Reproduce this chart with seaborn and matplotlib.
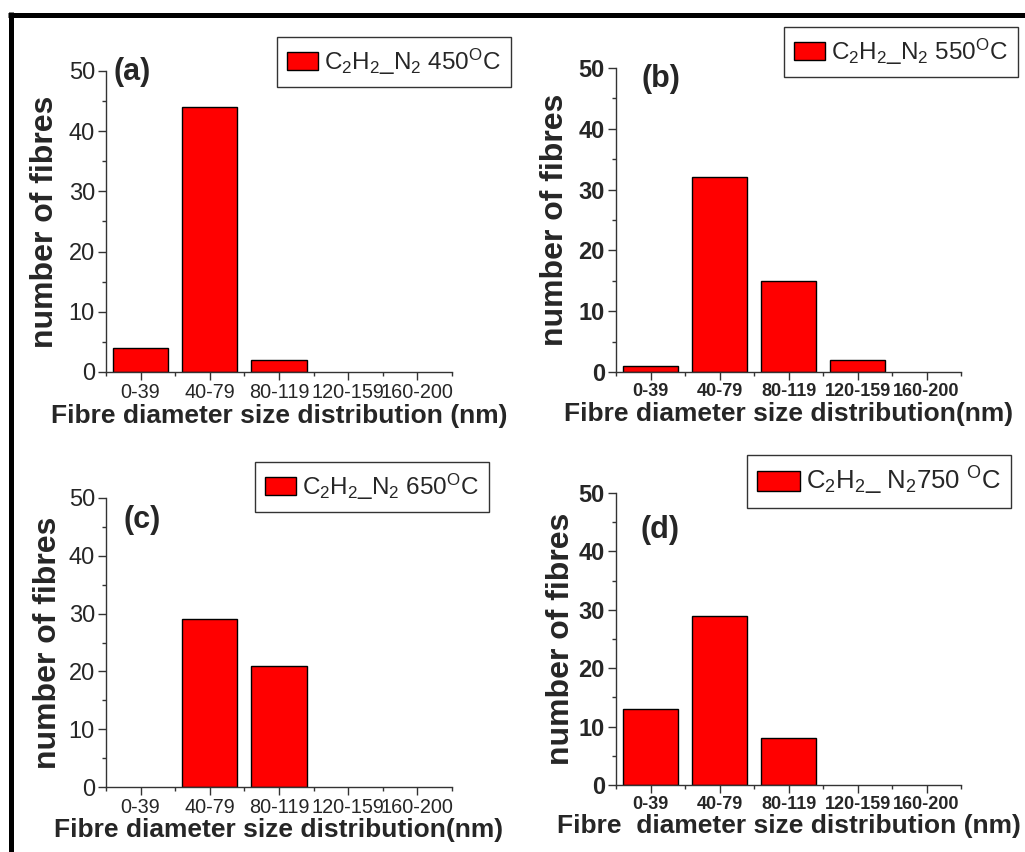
import matplotlib
matplotlib.use("Agg")
import matplotlib.pyplot as plt
import seaborn as sns
import pandas as pd
from matplotlib.patches import Patch
from matplotlib.lines import Line2D
from matplotlib.ticker import MultipleLocator, FixedLocator

categories = ["0-39", "40-79", "80-119", "120-159", "160-200"]
counts_450 = [4, 44, 2, 0, 0]
counts_550 = [1, 32, 15, 2, 0]
counts_650 = [0, 29, 21, 0, 0]
counts_750 = [13, 29, 8, 0, 0]

legend_labels = [
    r"C$_2$H$_2$_N$_2$ 450$^{\rm O}$C",
    r"C$_2$H$_2$_N$_2$ 550$^{\rm O}$C",
    r"C$_2$H$_2$_N$_2$ 650$^{\rm O}$C",
    r"C$_2$H$_2$_ N$_2$750 $^{\rm O}$C",
]
panel_labels = ["(a)", "(b)", "(c)", "(d)"]
xlabels = [
    "Fibre diameter size distribution (nm)",
    "Fibre diameter size distribution(nm)",
    "Fibre diameter size distribution(nm)",
    "Fibre  diameter size distribution (nm)",
]
ylabel = "number of fibres"

sns.set_style("ticks")
plt.rcParams["font.family"] = ["Liberation Sans", "DejaVu Sans"]
plt.rcParams["mathtext.fontset"] = "custom"
plt.rcParams["mathtext.rm"] = "Liberation Sans"
plt.rcParams["mathtext.it"] = "Liberation Sans:italic"
plt.rcParams["mathtext.bf"] = "Liberation Sans:bold"

W, H = 1025, 852
fig = plt.figure(figsize=(W / 100, H / 100), dpi=100)

# axes rectangles in pixels: left, right, top(y of 50), bottom(y of 0)
rects_px = [
    (106, 452, 71, 372),
    (616, 961, 68, 372),
    (106, 452, 498, 787),
    (616, 961, 493, 785),
]
legend_anchor_px = [(277, 37), (784, 27), (255, 462), (747, 455)]
legend_font = [17.5, 17.5, 17.5, 18.5]
legend_hlen = [1.3, 1.3, 1.3, 1.65]
legend_hh = [0.75, 0.75, 0.75, 0.85]
panel_pos = [(0.075, 0.998), (0.130, 0.964), (0.104, 0.924), (0.128, 0.873)]
bold_ticks = [False, True, False, True]
ylabel_pad = [6, 6, 4, 2]

all_counts = [counts_450, counts_550, counts_650, counts_750]

for i, counts in enumerate(all_counts):
    l, r, t, b = rects_px[i]
    ax = fig.add_axes([l / W, 1 - b / H, (r - l) / W, (b - t) / H])
    df = pd.DataFrame({"range": categories, "count": counts})
    sns.barplot(data=df, x="range", y="count", color="#ff0000", saturation=1,
                edgecolor="black", linewidth=1.0, width=0.8, ax=ax)
    for p in ax.patches:
        if p.get_height() == 0:
            p.set_linewidth(0)
    ax.set_xlim(-0.5, 4.5)
    ax.set_ylim(0, 50)
    sns.despine(ax=ax)
    for s in ["left", "bottom"]:
        ax.spines[s].set_color("#333333")
        ax.spines[s].set_linewidth(1.0)
    ax.yaxis.set_major_locator(MultipleLocator(10))
    ax.yaxis.set_minor_locator(MultipleLocator(5))
    ax.xaxis.set_minor_locator(FixedLocator([-0.5, 0.5, 1.5, 2.5, 3.5, 4.5]))
    ax.tick_params(axis="both", which="major", direction="out", length=6,
                   width=1, color="#333333")
    ax.tick_params(axis="both", which="minor", direction="out", length=3,
                   width=1, color="#333333")
    fw = "bold" if bold_ticks[i] else "normal"
    xs = 13 if bold_ticks[i] else 14.3
    for lab in ax.get_xticklabels():
        lab.set_fontsize(xs)
        lab.set_fontweight(fw)
    for lab in ax.get_yticklabels():
        lab.set_fontsize(17)
        lab.set_fontweight(fw)
    ax.tick_params(axis="x", which="major", pad=2)
    ax.tick_params(axis="y", which="major", pad=2)
    ax.set_xlabel(xlabels[i], fontsize=19, fontweight="bold", labelpad=1)
    ax.set_ylabel(ylabel, fontsize=23, fontweight="bold", labelpad=ylabel_pad[i])
    ax.text(panel_pos[i][0], panel_pos[i][1], panel_labels[i], transform=ax.transAxes,
            ha="center", va="center", fontsize=22, fontweight="bold")
    lx, ly = legend_anchor_px[i]
    handle = Patch(facecolor="#ff0000", edgecolor="black", linewidth=1.0)
    leg = ax.legend(handles=[handle], labels=[legend_labels[i]], loc="upper left",
                    bbox_to_anchor=(lx / W, 1 - ly / H), bbox_transform=fig.transFigure,
                    borderaxespad=0, fontsize=legend_font[i], frameon=True, fancybox=False,
                    handlelength=legend_hlen[i], handleheight=legend_hh[i],
                    handletextpad=0.25, borderpad=0.4)
    leg.get_frame().set_edgecolor("#333333")
    leg.get_frame().set_linewidth(1.0)
    leg.get_frame().set_alpha(1)

# black frame lines (top and left)
fig.add_artist(Line2D([8 / W, 1.0], [1 - 14.5 / H, 1 - 14.5 / H], transform=fig.transFigure,
                      color="black", linewidth=3.6, solid_capstyle="butt"))
fig.add_artist(Line2D([10.5 / W, 10.5 / W], [0.0, 1 - 12 / H], transform=fig.transFigure,
                      color="black", linewidth=3.6, solid_capstyle="butt"))

fig.savefig("out.png", dpi=100)
